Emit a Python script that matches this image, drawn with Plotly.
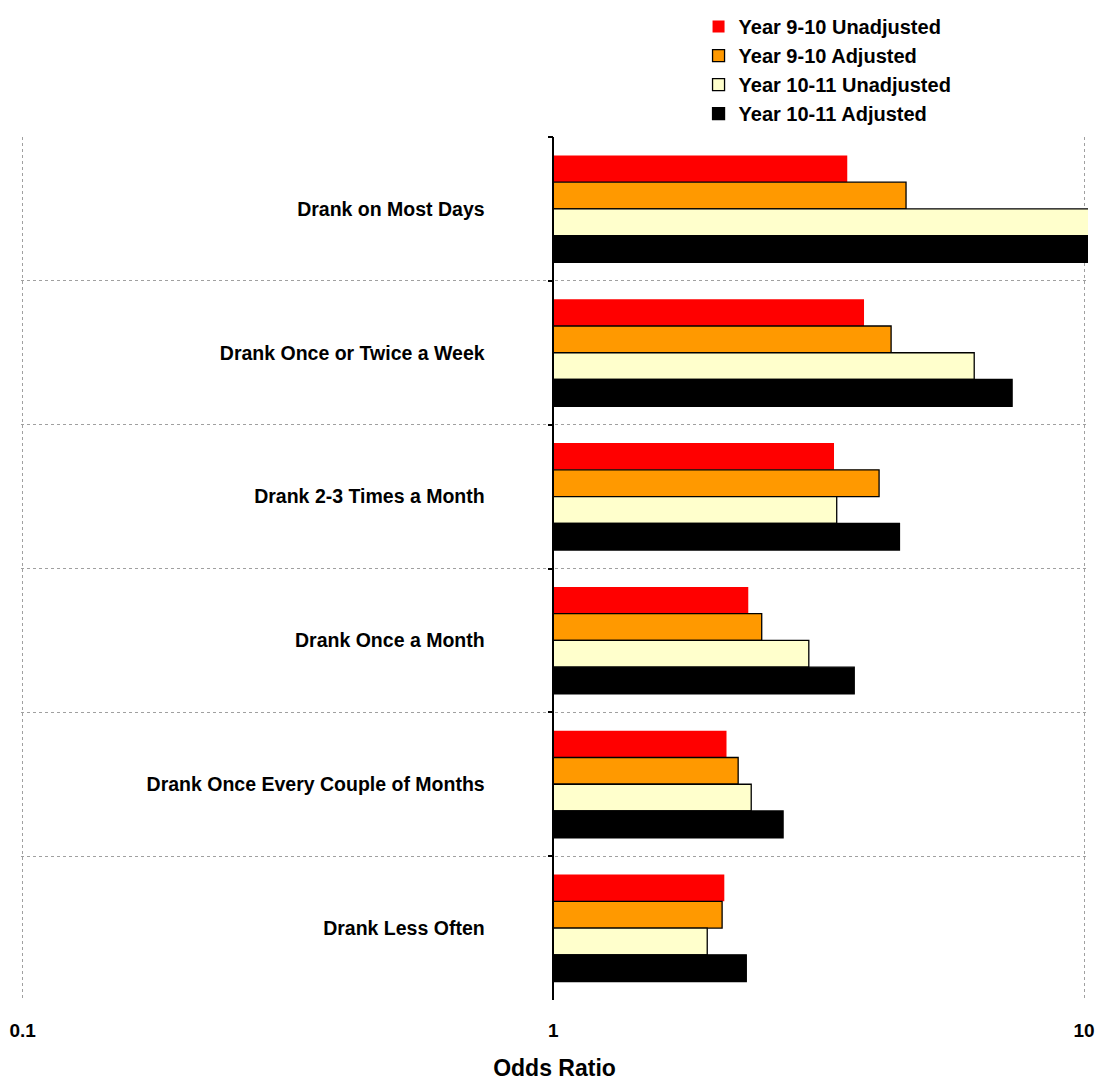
import math
import plotly.graph_objects as go

# Drinking frequency categories, top to bottom
categories = [
    "Drank on Most Days",
    "Drank Once or Twice a Week",
    "Drank 2-3 Times a Month",
    "Drank Once a Month",
    "Drank Once Every Couple of Months",
    "Drank Less Often",
]

# Odds ratios per series
y910_unadjusted = [3.58, 3.85, 3.38, 2.33, 2.12, 2.10]
y910_adjusted = [4.62, 4.33, 4.11, 2.47, 2.23, 2.08]
y1011_unadjusted = [10.6, 6.21, 3.42, 3.03, 2.36, 1.95]
y1011_adjusted = [10.9, 7.32, 4.49, 3.69, 2.71, 2.31]

series_names = [
    "Year 9-10 Unadjusted",
    "Year 9-10 Adjusted",
    "Year 10-11 Unadjusted",
    "Year 10-11 Adjusted",
]
series_values = [y910_unadjusted, y910_adjusted, y1011_unadjusted, y1011_adjusted]
series_colors = ["#FF0000", "#FF9900", "#FFFFCC", "#000000"]
series_borders = [0, 1.3, 1.3, 1.3]

x_ticks = [0.1, 1, 10]
x_ticktext = ["0.1", "1", "10"]

# Bars grow outward from an odds ratio of 1
BASE = 1.0
# small padding on both ends so the 0.1 and 10 gridlines stay visible
x_range = [math.log10(0.1) - 0.003, math.log10(10) + 0.0075]

main_font = "Liberation Sans, Arial, sans-serif"

fig = go.Figure()
for name, vals, color, lw in zip(series_names, series_values, series_colors, series_borders):
    fig.add_trace(
        go.Bar(
            name=name,
            y=categories,
            x=[v - BASE for v in vals],
            base=BASE,
            orientation="h",
            legendgroup=name,
            marker=dict(color=color, line=dict(color="#000000", width=lw)),
            customdata=vals,
            hovertemplate="%{y}<br>OR = %{customdata}<extra>" + name + "</extra>",
        )
    )

axis_pos = (math.log10(BASE) - x_range[0]) / (x_range[1] - x_range[0])

fig.update_layout(
    width=1100,
    height=1081,
    margin=dict(l=21, r=12, t=137, b=81, autoexpand=False),
    paper_bgcolor="white",
    plot_bgcolor="white",
    barmode="group",
    bargap=0.256,
    bargroupgap=0,
    font=dict(family=main_font, color="#000000"),
    legend=dict(
        x=0.635,
        y=1.1506,
        xanchor="left",
        yanchor="top",
        font=dict(family=main_font, size=20, weight="bold"),
        tracegroupgap=0,
        itemwidth=30,
        bgcolor="rgba(0,0,0,0)",
    ),
    xaxis=dict(
        type="log",
        range=x_range,
        automargin=False,
        tickvals=x_ticks,
        ticktext=x_ticktext,
        showgrid=True,
        gridcolor="#a0a0a0",
        griddash="dot",
        gridwidth=1,
        showline=False,
        zeroline=False,
        ticks="",
        ticklabelstandoff=17,
        tickfont=dict(family=main_font, size=19, weight="bold"),
        title=dict(
            text="Odds Ratio",
            font=dict(family=main_font, size=23, weight="bold"),
            standoff=22,
        ),
    ),
    yaxis=dict(
        type="category",
        autorange="reversed",
        automargin=False,
        anchor="free",
        position=axis_pos,
        showline=True,
        linecolor="#000000",
        linewidth=1.5,
        ticks="outside",
        tickson="boundaries",
        ticklen=5,
        tickwidth=1.5,
        tickcolor="#000000",
        showgrid=True,
        gridcolor="#a0a0a0",
        griddash="dot",
        gridwidth=1,
        zeroline=False,
        ticklabelstandoff=64,
        tickfont=dict(family=main_font, size=19.5, weight="bold"),
    ),
)

fig.write_html("out.html")
